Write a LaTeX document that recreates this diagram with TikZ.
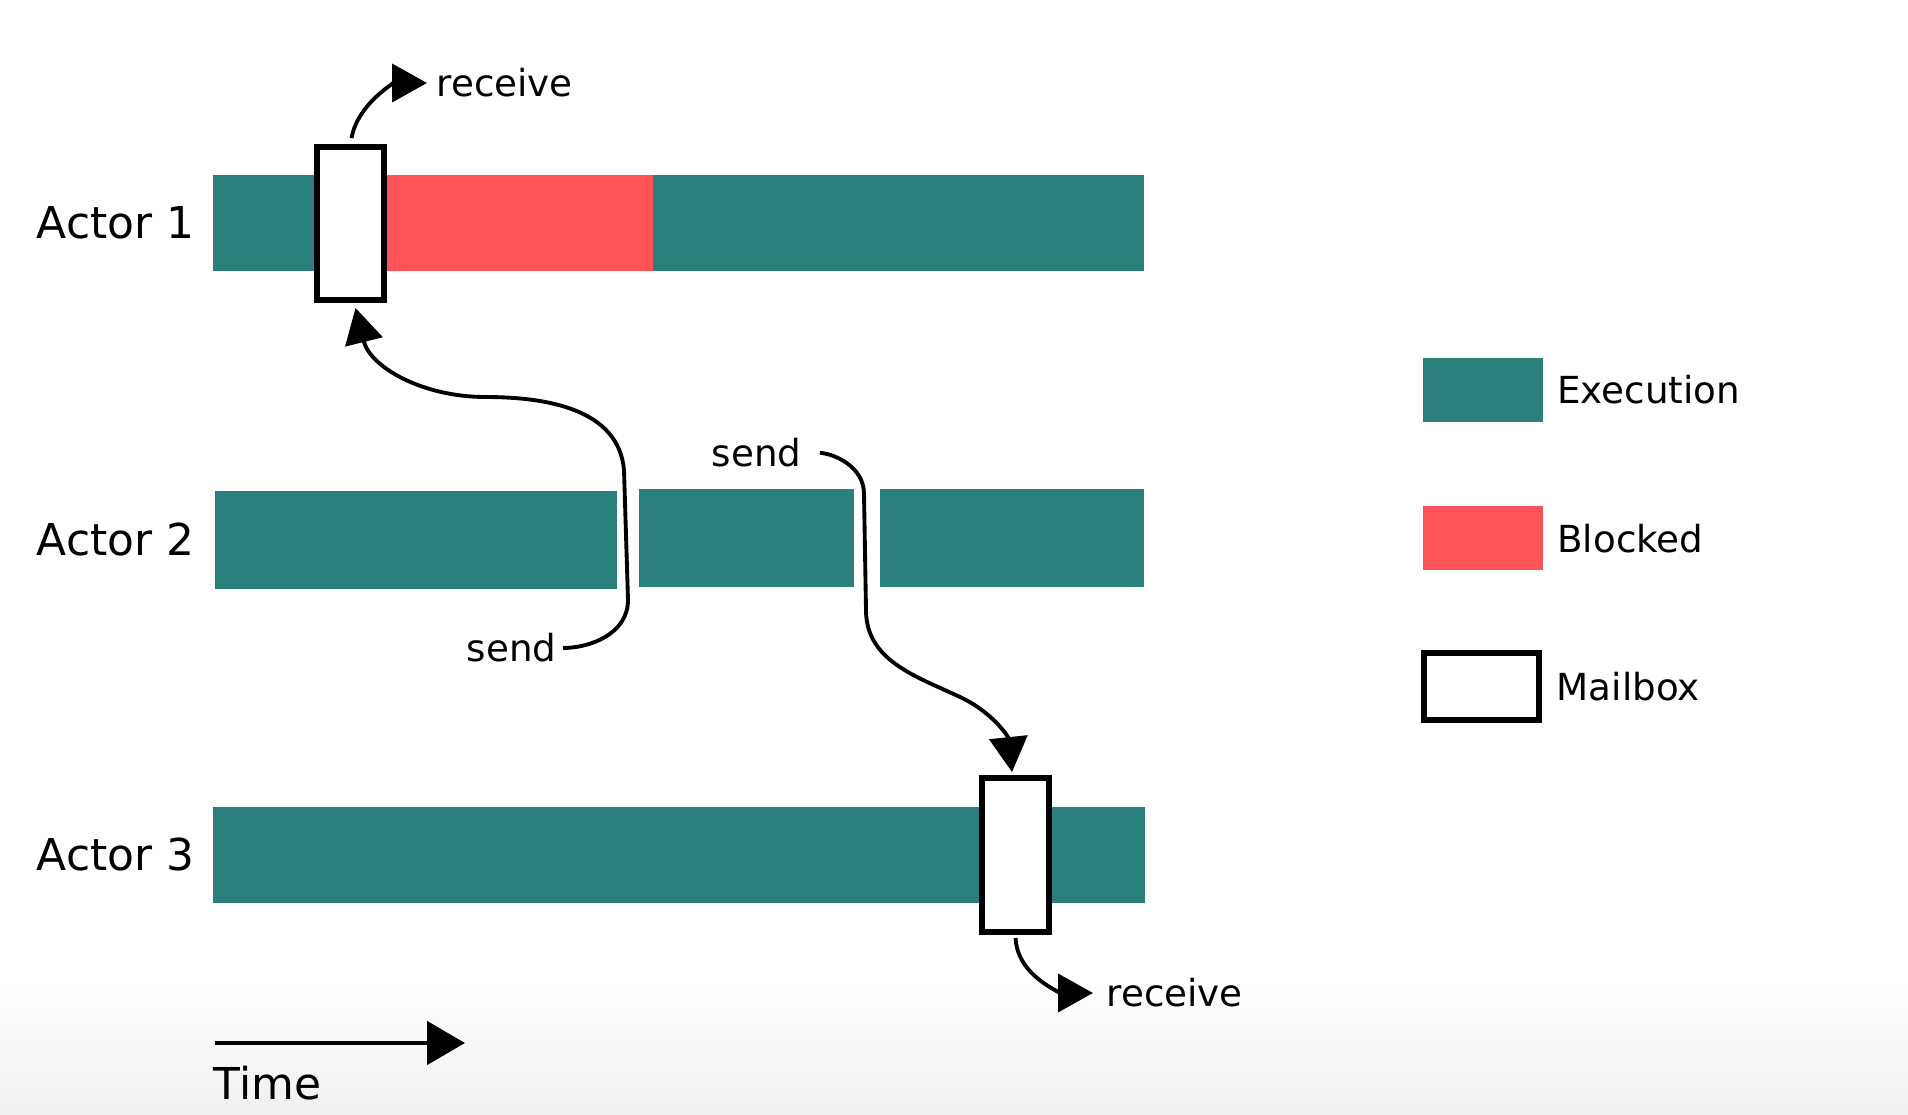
\documentclass[tikz,border=0pt]{standalone}
\usepackage{fontspec}
\setmainfont{DejaVu Sans}
\usetikzlibrary{positioning}
\usetikzlibrary{arrows.meta}
\definecolor{exec}{HTML}{2A807B}
\definecolor{block}{HTML}{FF5358}

\begin{document}
\begin{tikzpicture}[
  big/.style={font=\fontsize{12.5}{15}\selectfont, inner sep=0pt},
  small/.style={font=\fontsize{10.6}{13}\selectfont, inner sep=0pt},
  mailbox/.style={draw, line width=1.7pt, fill=white, minimum width=0.67cm, minimum height=1.53cm, inner sep=0pt},
  msg/.style={line width=1.1pt, -{Triangle[length=3.5mm,width=3.8mm]}},
  legbox/.style={minimum width=1.2cm, minimum height=0.64cm, inner sep=0pt}
]

\useasboundingbox (0,0) rectangle (19.08,11.14);
\shade[top color=white, bottom color=gray!12] (0,0) rectangle (19.08,1.3);

% actor 1
\fill[exec] (2.13,8.43) rectangle (11.44,9.39);
\fill[block] (3.87,8.43) rectangle (6.53,9.39);
\node[mailbox] (mb1) at (3.505,8.905) {};
\node[big, anchor=west] (act1) at (0.36,8.91) {Actor 1};

% actor 2
\fill[exec] (2.15,5.25) rectangle (6.17,6.23);
\fill[exec] (6.39,5.27) rectangle (8.54,6.25);
\fill[exec] (8.80,5.27) rectangle (11.44,6.25);
\node[big, anchor=west] (act2) at (0.36,5.74) {Actor 2};

% actor 3
\fill[exec] (2.13,2.11) rectangle (11.45,3.07);
\node[mailbox, minimum height=1.54cm] (mb3) at (10.155,2.59) {};
\node[big, anchor=west] (act3) at (0.36,2.59) {Actor 3};

% messages
\node[small, anchor=west] (recv1) at (4.36,10.31) {receive};
\node[small, anchor=west] (recv3) at (11.06,1.21) {receive};
\node[small, anchor=east] (send1) at (5.57,4.66) {send};
\node[small, anchor=east] (send2) at (8.02,6.61) {send};

\draw[msg, shorten <=0.6mm, shorten >=0.9mm] (mb1.north) to[out=80,in=180] (recv1.west);
\draw[msg, shorten <=0.6mm] (send1.east) to[out=0,in=-90] (6.28,5.14) -- (6.24,6.44)
  to[out=95,in=0] (4.85,7.17) to[out=180,in=-76] ([shift={(0.05,-0.05)}]mb1.south);
\draw[msg, shorten <=1.8mm] (send2.east) to[out=0,in=90] (8.64,6.20) -- (8.66,5.04)
  to[out=-90,in=155] (9.60,4.17) to[out=-25,in=96] ([shift={(-0.035,0.03)}]mb3.north);
\draw[msg, shorten <=0.3mm, shorten >=1.3mm] (mb3.south) to[out=-88,in=180] (recv3.west);

% time axis
\coordinate (t0) at (2.15,0.71);
\coordinate (t1) at (4.65,0.71);
\draw[line width=1.4pt, -{Triangle[length=3.8mm,width=4.3mm]}] (t0) -- (t1);
\node[big, anchor=west] (time) at (2.13,0.31) {Time};

% legend
\node[legbox, fill=exec] (legexec) at (14.83,7.24) {};
\node[legbox, fill=block] (legblock) at (14.83,5.755) {};
\node[legbox, draw, line width=1.7pt, minimum width=1.15cm, minimum height=0.67cm] (legmail) at (14.815,4.275) {};
\node[small, right=0.13cm of legexec] (txtexec) {Execution};
\node[small, right=0.13cm of legblock] (txtblock) {Blocked};
\node[small, right=0.14cm of legmail] (txtmail) {Mailbox};

\end{tikzpicture}
\end{document}
